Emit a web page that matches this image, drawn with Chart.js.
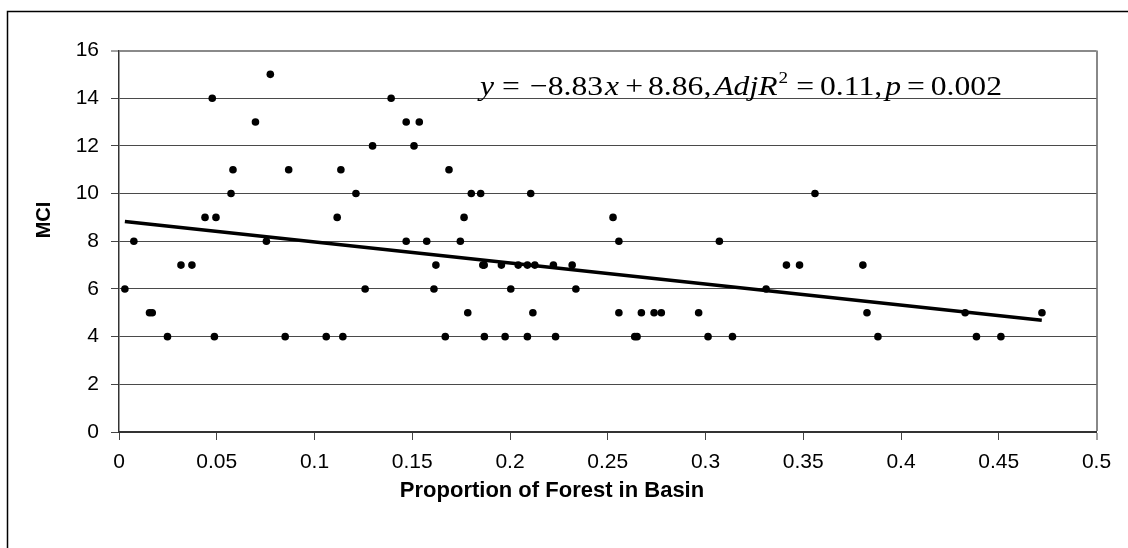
<!DOCTYPE html>
<html>
<head>
<meta charset="utf-8">
<script src="https://cdn.jsdelivr.net/npm/chart.js@4/dist/chart.umd.min.js"></script>
<style>
html,body{margin:0;padding:0;background:#fff;}
#wrap{width:1128px;height:548px;position:relative;}
</style>
</head>
<body>
<div id="wrap"><canvas id="c"></canvas></div>
<script>
// ---- data ----
const forestX = [0.003,0.0076,0.0156,0.017,0.0248,0.0317,0.0373,0.044,0.0477,0.0488,0.0496,0.0573,0.0583,0.0698,0.0754,0.0774,0.085,0.0868,0.106,0.1116,0.1135,0.1145,0.1212,0.1259,0.1297,0.1392,0.1469,0.1469,0.1509,0.1536,0.1574,0.1611,0.1621,0.1669,0.1688,0.1746,0.1765,0.1784,0.1802,0.185,0.1861,0.1868,0.1869,0.1956,0.1975,0.2004,0.2042,0.2089,0.2089,0.2106,0.2117,0.2127,0.2222,0.2233,0.2318,0.2337,0.2527,0.2557,0.2557,0.2638,0.265,0.2672,0.2737,0.2774,0.2965,0.3013,0.3071,0.3138,0.331,0.3414,0.3481,0.356,0.3805,0.3826,0.3882,0.4328,0.4386,0.4511,0.4721];
const mciValues = [6,8,5,5,4,7,7,9,14,4,9,10,11,13,8,15,4,11,4,9,11,4,10,6,12,14,13,8,12,13,8,6,7,4,11,8,9,5,10,10,7,7,4,7,4,6,7,7,4,10,5,7,7,4,7,6,9,8,5,4,4,5,5,5,5,4,8,4,6,7,7,10,7,5,4,5,4,4,5];
const trendX = [0.003, 0.472];
const trendY = [8.83, 4.69];
const xTickValues = [0,0.05,0.1,0.15,0.2,0.25,0.3,0.35,0.4,0.45,0.5];
const yTickValues = [0,2,4,6,8,10,12,14,16];
const xAxisTitle = 'Proportion of Forest in Basin';
const yAxisTitle = 'MCI';
// equation pieces: [text, italic]
const eqPieces = [['y',true],['=',false],['\u22128.83',false],['x',true],['+',false],['8.86,',false],['AdjR',true],['2',false],['=',false],['0.11,',false],['p',true],['=',false],['0.002',false]];

const points = forestX.map((x,i)=>({x:x, y:mciValues[i]}));
const trend = trendX.map((x,i)=>({x:x, y:trendY[i]}));

const SANS = "'Liberation Sans', Arial, sans-serif";
const SERIF = "'Liberation Serif', 'Times New Roman', serif";

// equation layout (style)
const EQ_LEFT = 480, EQ_RIGHT = 1002, EQ_BASE = 95, EQ_SIZE = 28, EQ_SUP = 17;
const eqGaps = [8,10,2,6,5,3,1,8,6,3,6,6,0];

const decor = {
  id:'decor',
  beforeDraw(chart){
    const ctx = chart.ctx;
    ctx.save();
    ctx.fillStyle = '#fff';
    ctx.fillRect(0,0,chart.width,chart.height);
    ctx.strokeStyle = '#000';
    ctx.lineWidth = 1.5;
    ctx.beginPath();
    ctx.moveTo(7.5, chart.height+2);
    ctx.lineTo(7.5, 11.5);
    ctx.lineTo(chart.width+2, 11.5);
    ctx.stroke();
    ctx.restore();
  },
  afterDraw(chart){
    const ctx = chart.ctx;
    ctx.save();
    ctx.fillStyle = '#000';
    // y title
    ctx.save();
    ctx.translate(44, 220);
    ctx.rotate(-Math.PI/2);
    ctx.font = 'bold 20px ' + SANS;
    ctx.textAlign = 'center';
    ctx.textBaseline = 'middle';
    ctx.fillText(yAxisTitle, 0, 0);
    ctx.restore();
    // x title
    ctx.font = 'bold 22px ' + SANS;
    ctx.textAlign = 'center';
    ctx.textBaseline = 'alphabetic';
    ctx.fillText(xAxisTitle, 552, 497);
    // equation
    ctx.textAlign = 'left';
    const fonts = eqPieces.map((p,i)=> (p[1]?'italic ':'') + ((i===7)?EQ_SUP:EQ_SIZE) + 'px ' + SERIF);
    const widths = eqPieces.map((p,i)=>{ ctx.font = fonts[i]; return ctx.measureText(p[0]).width; });
    const W = widths.reduce((a,b)=>a+b,0);
    const G = eqGaps.reduce((a,b)=>a+b,0);
    const s = (EQ_RIGHT - EQ_LEFT - G) / W;
    let x = EQ_LEFT;
    eqPieces.forEach((p,i)=>{
      ctx.font = fonts[i];
      ctx.save();
      ctx.translate(x, i===7 ? EQ_BASE-12 : EQ_BASE);
      ctx.scale(s,1);
      ctx.fillText(p[0],0,0);
      ctx.restore();
      x += widths[i]*s + eqGaps[i];
    });
    ctx.restore();
  }
};

new Chart(document.getElementById('c'), {
  type:'scatter',
  data:{
    datasets:[
      {label:'MCI', data:points, backgroundColor:'#000', borderColor:'#000', pointRadius:3.8, pointHoverRadius:3.8, pointBorderWidth:0},
      {label:'Trend', data:trend, showLine:true, borderColor:'#000', borderWidth:3.5, pointRadius:0, fill:false}
    ]
  },
  options:{
    responsive:true,
    maintainAspectRatio:false,
    animation:false,
    events:[],
    layout:{padding:{left:0,top:50.5,right:31.5,bottom:0}},
    plugins:{legend:{display:false},tooltip:{enabled:false},title:{display:false}},
    scales:{
      x:{
        type:'linear', min:0, max:0.5,
        afterFit(s){ s.height = 116; },
        afterBuildTicks(s){ s.ticks = xTickValues.map(v=>({value:v})); },
        ticks:{ padding:10, color:'#000', font:{family:SANS,size:21},
          maxRotation:0, autoSkip:false,
          callback:(v)=>String(Number(v.toFixed(2))) },
        grid:{ drawOnChartArea:true, drawTicks:true, tickLength:8, tickWidth:1, tickColor:'#444',
          color:(c)=> (c.tick && c.tick.value===0.5) ? '#888' : 'rgba(0,0,0,0)',
          lineWidth:(c)=> (c.tick && c.tick.value===0.5) ? 2 : 1 },
        border:{ display:true, color:'#333', width:2 }
      },
      y:{
        type:'linear', min:0, max:16,
        afterFit(s){ s.width = 119; },
        afterBuildTicks(s){ s.ticks = yTickValues.map(v=>({value:v})); },
        ticks:{ padding:12, color:'#000', font:{family:SANS,size:21} },
        grid:{ drawTicks:true, tickLength:8, tickWidth:1, tickColor:'#444',
          color:(c)=> (c.tick && c.tick.value===16) ? '#8a8a8a' : '#4a4a4a',
          lineWidth:(c)=> (c.tick && c.tick.value===16) ? 2 : 1 },
        border:{ display:true, color:'#333', width:1.5 }
      }
    }
  },
  plugins:[decor]
});
</script>
</body>
</html>
